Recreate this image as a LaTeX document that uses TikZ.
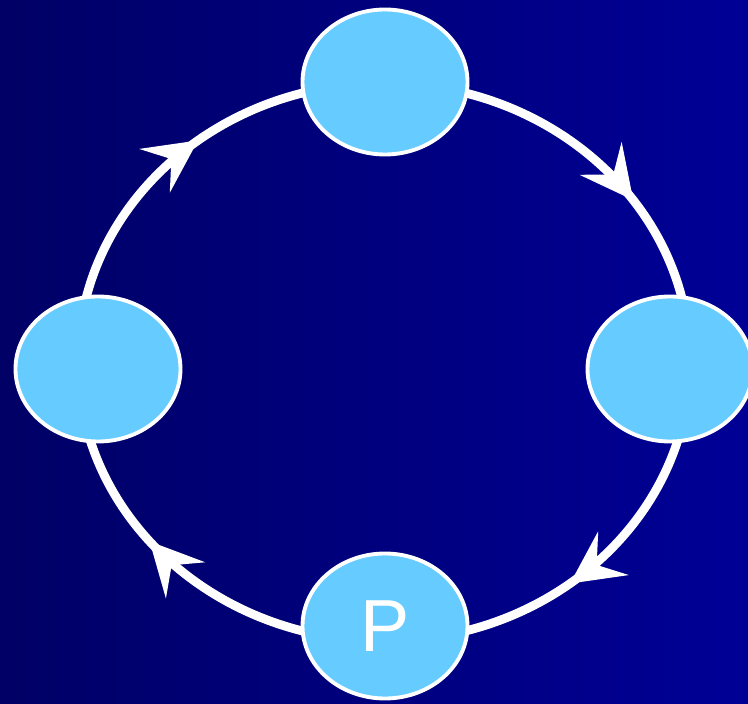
\documentclass[tikz,border=0pt]{standalone}
\usepackage{fontspec}
\setmainfont{Liberation Sans}
\usetikzlibrary{shapes.geometric,arrows.meta,decorations.markings}
\definecolor{navyL}{RGB}{0,0,102}
\definecolor{navyR}{RGB}{0,0,150}
\definecolor{skyfill}{RGB}{102,204,255}
\begin{document}
\begin{tikzpicture}[
  stage/.style={draw=white, line width=2.2pt, fill=skyfill, ellipse, minimum width=3.3cm, minimum height=2.9cm, text=white, font=\fontsize{42}{46}\selectfont},
  ring/.style={white, line width=5pt, postaction={decorate}, decoration={markings, mark=at position #1 with {\arrow{Stealth[length=1.05cm,width=1.05cm,inset=0.4cm]}}}}
]
\fill[left color=navyL, right color=navyR] (0,0) rectangle (14.96,14.06);
\useasboundingbox (0,0) rectangle (14.96,14.06);
% points where the ring meets each stage
\coordinate (rt) at (7.68,12.40);
\coordinate (rr) at (13.80,6.82);
\coordinate (rb) at (7.68,1.24);
\coordinate (rl) at (1.56,6.82);
\draw[ring=0.62] (rt) arc[start angle=90, end angle=0, x radius=6.12cm, y radius=5.58cm];
\draw[ring=0.57] (rr) arc[start angle=0, end angle=-90, x radius=6.12cm, y radius=5.58cm];
\draw[ring=0.57] (rb) arc[start angle=-90, end angle=-180, x radius=6.12cm, y radius=5.58cm];
\draw[ring=0.57] (rl) arc[start angle=180, end angle=90, x radius=6.12cm, y radius=5.58cm];
% stages
\node[stage] (t) at (7.70,12.42) {};
\node[stage] (r) at (13.40,6.68) {};
\node[stage] (b) at (7.70,1.54) {P};
\node[stage] (l) at (1.96,6.68) {};
\end{tikzpicture}
\end{document}
